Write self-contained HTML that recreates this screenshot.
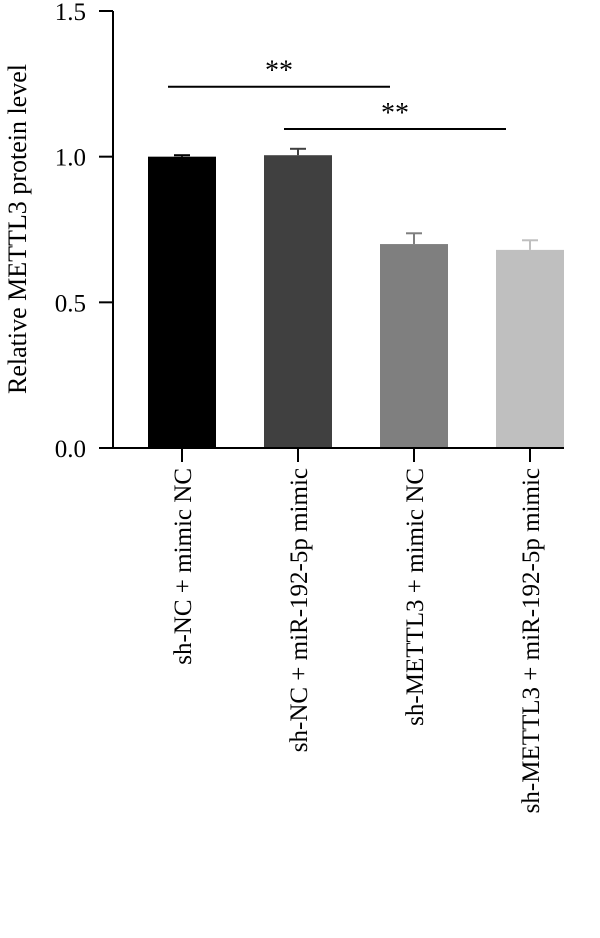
<!DOCTYPE html>
<html><head><meta charset="utf-8"><style>
body{margin:0;background:#fff;}
svg text{font-family:"Liberation Serif",serif;fill:#000;}
</style></head><body>
<svg width="600" height="933" id="chart"></svg>
<script>
const categories=["sh-NC + mimic NC","sh-NC + miR-192-5p mimic","sh-METTL3 + mimic NC","sh-METTL3 + miR-192-5p mimic"];
const values=[1.0,1.005,0.70,0.68];
const errors=[0.005,0.022,0.037,0.033];
const colors=["#000000","#404040","#7f7f7f","#bfbfbf"];
const yTicks=[0,0.5,1.0,1.5];
const yTickLabels=["0.0","0.5","1.0","1.5"];
const sigPairs=[[0,2,1.24],[1,3,1.095]];
const NS="http://www.w3.org/2000/svg";
const svg=document.getElementById('chart');
const x0=113,y0=448,yTop=11;
const y=v=>y0-(v/1.5)*(y0-yTop);
const bw=68,step=116,firstCenter=182;
const xc=i=>firstCenter+i*step;
function mk(t,a){const e=document.createElementNS(NS,t);for(const k in a)e.setAttribute(k,a[k]);svg.appendChild(e);return e;}
values.forEach((v,i)=>{
 const r=mk('rect',{x:xc(i)-bw/2,y:y(v),width:bw,height:y0-y(v),fill:colors[i]});
 
 
 const top=y(v+errors[i]);
 const l=mk('line',{x1:xc(i),x2:xc(i),y1:y(v),y2:top,stroke:colors[i],'stroke-width':2});
 
 
 const c=mk('line',{x1:xc(i)-8,x2:xc(i)+8,y1:top,y2:top,stroke:colors[i],'stroke-width':2});
 
 
 const t=mk('line',{x1:xc(i),x2:xc(i),y1:y0,y2:y0+14,stroke:'#000','stroke-width':2});
 
 
 const tx=mk('text',{x:0,y:0,'font-size':25,'text-anchor':'end',transform:`translate(${xc(i)+9},${y0+20}) rotate(-90)`});
 tx.textContent=categories[i];
 
 
});
const ax=mk('line',{x1:x0,x2:x0,y1:yTop,y2:y0,stroke:'#000','stroke-width':2});


const bx=mk('line',{x1:x0-14,x2:564,y1:y0,y2:y0,stroke:'#000','stroke-width':2});


yTicks.forEach((v,i)=>{
 const t=mk('line',{x1:x0-14,x2:x0,y1:y(v),y2:y(v),stroke:'#000','stroke-width':2});
 
 
 const tx=mk('text',{x:86,y:y(v)+9,'font-size':25,'text-anchor':'end'});
 tx.textContent=yTickLabels[i];
 
 
});
const yl=mk('text',{x:0,y:0,'font-size':26,'text-anchor':'middle',transform:`translate(26,229) rotate(-90)`});
yl.textContent="Relative METTL3 protein level";


sigPairs.forEach(p=>{
 const yy=y(p[2]);
 const l=mk('line',{x1:xc(p[0])-14,x2:xc(p[1])-24,y1:yy,y2:yy,stroke:'#000','stroke-width':2});
 
 
 const s=mk('text',{x:(xc(p[0])-14+xc(p[1])-24)/2,y:yy-7,'font-size':28,'text-anchor':'middle'});
 s.textContent="**";
 
 
});
</script>
</body></html>
